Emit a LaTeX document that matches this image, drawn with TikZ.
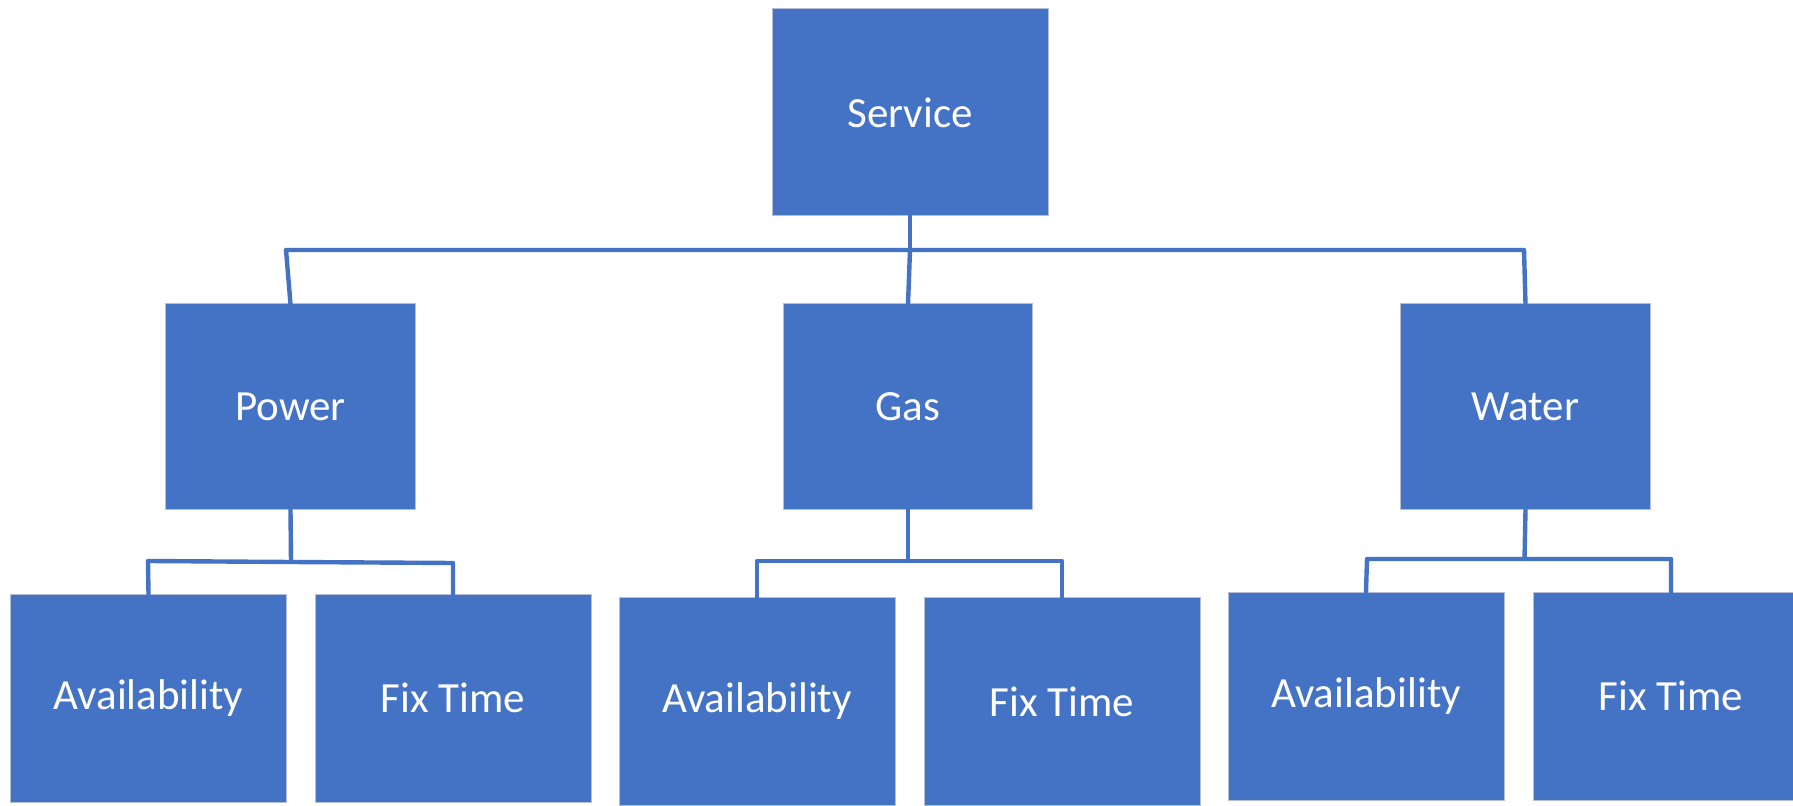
\documentclass[tikz,border=0pt]{standalone}
\usepackage{fontspec}
\setmainfont{Carlito}
\definecolor{boxblue}{HTML}{4472C4}
\definecolor{rim}{HTML}{B4BFD6}
\tikzset{
  unit/.style={rectangle, fill=boxblue, draw=rim, line width=0.5pt,
    inner sep=0pt, outer sep=0pt, text=white,
    font=\fontsize{21.5pt}{26pt}\selectfont},
  topbox/.style={unit, minimum width=138pt, minimum height=103.5pt},
  midbox/.style={unit, minimum width=124.75pt, minimum height=103pt},
  leafbox/.style={unit, minimum width=138pt, minimum height=104pt},
  link/.style={draw=boxblue, line width=2.2pt, line join=round, line cap=round}
}
\begin{document}
\begin{tikzpicture}[x=0.5pt, y=-0.5pt]
  \clip (0,0) rectangle (1793,806);
  \fill[white] (0,0) rectangle (1793,806);

  % root
  \node[topbox] (service) at (910,112.5) {Service};

  % utilities
  \node[midbox] (power) at (290.5,407) {Power};
  \node[midbox] (gas)   at (908,407)   {Gas};
  \node[midbox] (water) at (1525.5,407) {Water};

  % measures of each utility
  \node[leafbox] (pavail) at (148.5,698)  {Availability};
  \node[leafbox] (pfix)   at (453,698)    {Fix Time};
  \node[leafbox] (gavail) at (757,701.5)  {Availability};
  \node[leafbox] (gfix)   at (1062,701.5) {Fix Time};
  \node[leafbox] (wavail) at (1366,696)   {Availability};
  \node[leafbox] (wfix)   at (1671,696)   {Fix Time};

  % bus under the root
  \coordinate (busL) at (286,250);
  \coordinate (busM) at (910,250);
  \coordinate (busR) at (1524,250);
  \draw[link] (service.south) -- (busM);
  \draw[link] (power.north) -- (busL) -- (busR) -- (water.north);
  \draw[link] (gas.north) -- (busM);

  % Power branch
  \coordinate (pj)  at (291,562);
  \coordinate (pjL) at (148,561);
  \coordinate (pjR) at (453,563);
  \draw[link] (power.south) -- (pj);
  \draw[link] (pavail.north) -- (pjL) -- (pj) -- (pjR) -- (pfix.north);

  % Gas branch
  \coordinate (gj)  at (908,561);
  \coordinate (gjL) at (757,561);
  \coordinate (gjR) at (1062,561);
  \draw[link] (gas.south) -- (gj);
  \draw[link] (gavail.north) -- (gjL) -- (gjR) -- (gfix.north);

  % Water branch
  \coordinate (wj)  at (1524.5,559);
  \coordinate (wjL) at (1367,559);
  \coordinate (wjR) at (1671,559);
  \draw[link] (water.south) -- (wj);
  \draw[link] (wavail.north) -- (wjL) -- (wjR) -- (wfix.north);
\end{tikzpicture}
\end{document}
